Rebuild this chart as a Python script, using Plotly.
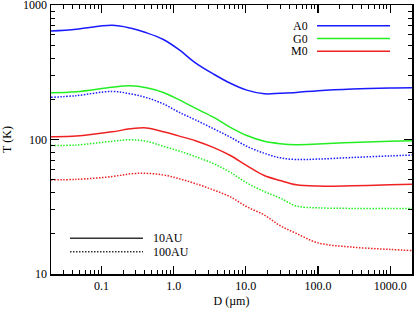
import plotly.graph_objects as go

D = [0.02, 0.045, 0.14, 0.25, 0.42, 0.72, 1.2, 2.0, 3.6, 6.1, 10.3, 18, 30, 50, 100, 300, 1000, 2000]

A0_10AU = [641, 662, 707, 675, 623, 555, 464, 372, 306, 262, 233, 219, 221, 224, 231, 238, 242, 243]
G0_10AU = [223, 227, 245, 251, 243, 224, 197, 171, 146, 123, 107, 97, 93, 91.5, 92.5, 95, 97, 98]
M0_10AU = [105, 106, 114, 120, 122, 114, 106, 98, 87, 76, 64, 54, 49.5, 46, 45, 45.3, 46, 46.4]
A0_100AU = [206, 212, 228, 219, 205, 184, 159, 140, 120, 104, 89, 79, 73, 71, 71.5, 73.5, 75.5, 76.6]
G0_100AU = [90.3, 91, 97, 99.5, 97, 89, 82, 74.6, 66, 57, 47.5, 41, 36.6, 32, 31, 30.7, 30.7, 30.7]
M0_100AU = [50.2, 50.5, 53, 55.5, 56, 54.5, 51, 47, 42, 37.4, 31.6, 27.4, 22.8, 20, 17, 15.8, 15.2, 14.9]

x_ticks = [0.1, 1, 10, 100, 1000]
x_ticktext = ["0.1", "1.0", "10.0", "100.0", "1000.0"]
y_ticks = [10, 100, 1000]
y_ticktext = ["10", "100", "1000"]

BLUE = "#1a1aff"
GREEN = "#22ee22"
RED = "#ee2222"
DOT = "1.5px,1.5px"

series = [
    (A0_10AU, BLUE, "solid"),
    (G0_10AU, GREEN, "solid"),
    (M0_10AU, RED, "solid"),
    (A0_100AU, BLUE, DOT),
    (G0_100AU, GREEN, DOT),
    (M0_100AU, RED, DOT),
]

fig = go.Figure()
for vals, col, dash in series:
    fig.add_trace(go.Scatter(x=D, y=vals, mode="lines",
                             line=dict(color=col, width=1.5, dash=dash, shape="spline", smoothing=1.0),
                             showlegend=False, hoverinfo="skip"))

minor_x = [m * 10 ** e for e in range(-2, 4) for m in range(2, 10) if 0.02 <= m * 10 ** e <= 2000]
minor_y = [m * 10 ** e for e in range(1, 3) for m in range(2, 10)]

font = dict(family="Liberation Serif, Times New Roman, serif", size=12, color="black")

axis_common = dict(type="log", showgrid=False, zeroline=False, showline=True, linecolor="black", linewidth=1.5,
                   mirror="ticks", ticks="inside", ticklen=8, tickwidth=1.2, tickcolor="black",
                   tickfont=font, automargin=False, ticklabeloverflow="allow")

fig.update_xaxes(range=[-1.699, 3.3015], tickvals=x_ticks, ticktext=x_ticktext,
                 minor=dict(tickvals=minor_x, ticks="inside", ticklen=4, tickwidth=1, tickcolor="black", showgrid=False),
                 title=dict(text="D (µm)", font=font, standoff=4), **axis_common)
fig.update_yaxes(range=[0.999, 3.001], tickvals=y_ticks, ticktext=y_ticktext,
                 minor=dict(tickvals=minor_y, ticks="inside", ticklen=4, tickwidth=1, tickcolor="black", showgrid=False),
                 title=dict(text="T (K)", font=font, standoff=16), **axis_common)

L, R, T, B = 51, 412, 5, 274
PW, PH = R - L, B - T

shapes = []
annotations = []
for i, (lab, col) in enumerate([("A0", BLUE), ("G0", GREEN), ("M0", RED)]):
    yp = 25.7 + 12.8 * i
    yn = 1 - (yp - T) / PH
    shapes.append(dict(type="line", xref="paper", yref="paper", x0=(317 - L) / PW, x1=(390 - L) / PW,
                       y0=yn, y1=yn, line=dict(color=col, width=1.5)))
    annotations.append(dict(xref="paper", yref="paper", x=(309 - L) / PW, y=yn, text=lab, showarrow=False,
                            xanchor="right", yanchor="middle", font=font, height=12, borderpad=0))

for i, (lab, dash) in enumerate([("10AU", "solid"), ("100AU", DOT)]):
    yp = 238.3 + 13.4 * i
    yn = 1 - (yp - T) / PH
    shapes.append(dict(type="line", xref="paper", yref="paper", x0=(70 - L) / PW, x1=(143 - L) / PW,
                       y0=yn, y1=yn, line=dict(color="#333333", width=1.5, dash=dash)))
    annotations.append(dict(xref="paper", yref="paper", x=(152 - L) / PW, y=yn, text=lab, showarrow=False,
                            xanchor="left", yanchor="middle", font=font, height=12, borderpad=0))

fig.update_layout(width=415, height=312, margin=dict(l=L, r=415 - R, t=T, b=312 - B),
                  plot_bgcolor="white", paper_bgcolor="white", font=font,
                  shapes=shapes, annotations=annotations)

fig.write_html("out.html", config={"displayModeBar": False, "staticPlot": True},
               post_script="document.body.style.margin='0';document.body.style.overflow='hidden';")
